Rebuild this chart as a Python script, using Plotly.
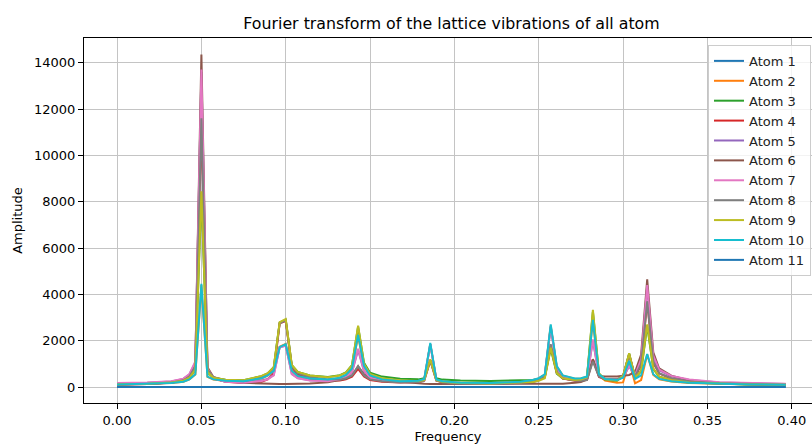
import plotly.graph_objects as go

# Frequency grid (subset of FFT bins)
freq = [0.0, 0.0179, 0.0321, 0.0393, 0.0429, 0.0464, 0.05, 0.0536, 0.0571, 0.0643,
        0.075, 0.0857, 0.0893, 0.0929, 0.0964, 0.1, 0.1036, 0.1071, 0.1143, 0.125,
        0.1321, 0.1357, 0.1393, 0.1429, 0.1464, 0.15, 0.1571, 0.1679, 0.1786, 0.1821,
        0.1857, 0.1893, 0.1929, 0.2036, 0.2214, 0.2393, 0.2464, 0.25, 0.2536, 0.2571,
        0.2607, 0.2643, 0.2714, 0.275, 0.2786, 0.2821, 0.2857, 0.2893, 0.2964, 0.3,
        0.3036, 0.3071, 0.3107, 0.3143, 0.3179, 0.3214, 0.3286, 0.3393, 0.3571, 0.375,
        0.3964]

freq_edge = [0.0, 0.3964]
atom1 = [0, 0]
atom11 = [0, 0]

atom2 = [110, 130, 170, 230, 330, 540, 4400, 440, 320, 260, 240, 370, 490, 690, 1740, 1860, 690, 470, 360, 310,
         390, 510, 790, 2200, 880, 490, 320, 240, 260, 340, 1850, 320, 240, 170, 160, 220, 290, 370, 540, 2650,
         880, 490, 360, 370, 440, 2850, 500, 280, 180, 200, 1100, 160, 300, 1400, 520, 330, 240, 170, 125, 105, 95]
atom3 = [120, 140, 190, 270, 400, 740, 8400, 640, 400, 310, 290, 470, 590, 850, 2780, 2900, 940, 650, 500, 430,
         510, 630, 950, 2600, 1050, 620, 450, 360, 330, 380, 1150, 380, 320, 280, 260, 270, 300, 340, 420, 1650,
         580, 370, 300, 320, 420, 3250, 580, 310, 270, 460, 1450, 390, 680, 2650, 780, 440, 290, 190, 135, 105, 95]
atom4 = [110, 130, 180, 280, 440, 880, 11500, 720, 380, 230, 170, 230, 330, 600, 2750, 2850, 850, 550, 380, 280,
         280, 330, 450, 780, 450, 300, 230, 190, 210, 270, 1150, 270, 200, 150, 140, 170, 220, 290, 440, 1800,
         620, 360, 270, 270, 310, 1200, 430, 330, 310, 460, 1400, 430, 950, 3700, 1050, 580, 370, 230, 150, 115, 95]
atom5 = [160, 180, 240, 350, 540, 1050, 13600, 780, 370, 230, 190, 280, 350, 520, 1720, 1780, 570, 390, 290, 260,
         330, 420, 640, 1600, 680, 390, 280, 220, 230, 290, 1850, 300, 220, 170, 150, 200, 270, 350, 510, 2600,
         830, 450, 320, 320, 390, 2000, 490, 350, 320, 420, 900, 480, 1150, 4350, 1300, 720, 460, 300, 200, 160, 130]
atom6 = [110, 130, 190, 300, 480, 1000, 14350, 850, 430, 260, 180, 140, 130, 130, 130, 130, 130, 130, 150, 200,
         280, 350, 500, 900, 550, 400, 300, 220, 160, 140, 130, 130, 130, 130, 120, 120, 120, 120, 120, 130,
         130, 140, 180, 220, 320, 1200, 480, 450, 450, 480, 520, 650, 1400, 4650, 1500, 800, 490, 280, 160, 120, 100]
atom7 = [170, 190, 250, 360, 560, 1100, 13700, 800, 380, 230, 180, 260, 330, 500, 1700, 1800, 560, 380, 280, 250,
         330, 430, 650, 1650, 700, 400, 280, 220, 230, 300, 1850, 300, 230, 170, 150, 210, 280, 360, 520, 2600,
         850, 460, 330, 330, 400, 2050, 500, 360, 330, 430, 920, 500, 1200, 4400, 1350, 750, 480, 320, 210, 170, 140]
atom8 = [110, 130, 190, 290, 450, 900, 11600, 750, 420, 290, 250, 420, 550, 820, 2750, 2880, 900, 600, 430, 330,
         320, 380, 500, 900, 500, 330, 250, 200, 220, 280, 1150, 280, 210, 150, 140, 180, 230, 300, 450, 1850,
         650, 380, 280, 270, 300, 1100, 450, 350, 330, 480, 1400, 450, 1000, 3700, 1100, 600, 380, 240, 160, 120, 100]
atom9 = [120, 140, 190, 270, 400, 750, 8450, 650, 400, 310, 290, 480, 600, 860, 2800, 2930, 950, 650, 500, 420,
         500, 620, 950, 2650, 1000, 560, 380, 290, 260, 300, 1200, 300, 230, 170, 150, 180, 220, 270, 380, 1700,
         600, 380, 300, 320, 420, 3330, 600, 320, 280, 480, 1460, 400, 700, 2700, 800, 450, 300, 200, 140, 110, 100]
atom10 = [110, 130, 170, 230, 330, 550, 4450, 450, 330, 270, 250, 380, 500, 700, 1720, 1850, 700, 480, 370, 320,
          400, 520, 800, 2250, 900, 500, 330, 250, 270, 350, 1900, 330, 250, 180, 170, 230, 300, 380, 550, 2700,
          900, 500, 370, 380, 450, 2900, 550, 350, 300, 400, 1130, 350, 500, 1420, 550, 350, 250, 180, 130, 110, 100]

names = ["Atom %d" % i for i in range(1, 12)]
series = [atom1, atom2, atom3, atom4, atom5, atom6, atom7, atom8, atom9, atom10, atom11]
colors = ["#1f77b4", "#ff7f0e", "#2ca02c", "#d62728", "#9467bd", "#8c564b",
          "#e377c2", "#7f7f7f", "#bcbd22", "#17becf", "#1f77b4"]

fig = go.Figure()
for i, (nm, ys, c) in enumerate(zip(names, series, colors)):
    xs = freq_edge if i in (0, 10) else freq
    fig.add_trace(go.Scatter(x=xs, y=ys, mode="lines", name=nm,
                             line=dict(color=c, width=2)))

font_family = "DejaVu Sans"
fig.update_layout(
    width=812, height=444,
    margin=dict(l=84, r=0, t=38, b=41, autoexpand=False),
    paper_bgcolor="white", plot_bgcolor="white",
    font=dict(family=font_family, size=13, color="black"),
    title=dict(text="Fourier transform of the lattice vibrations of all atom",
               x=451.5 / 812, xref="container", xanchor="center",
               y=1 - 23 / 444, yref="container", yanchor="middle",
               font=dict(size=15.8, family=font_family, color="black")),
    showlegend=True,
    legend=dict(x=0.9986, xanchor="right", y=0.981, yanchor="top",
                bgcolor="rgba(255,255,255,0.8)", bordercolor="#cccccc", borderwidth=1,
                font=dict(size=13, family=font_family, color="#222")),
)
fig.update_xaxes(range=[-0.0196, 0.412], tickvals=[0, 0.05, 0.1, 0.15, 0.2, 0.25, 0.3, 0.35, 0.4],
                 tickformat=".2f", showgrid=True, gridcolor="#c4c4c4", gridwidth=1,
                 showline=True, linecolor="black", linewidth=1, mirror=True,
                 ticks="outside", ticklen=5, tickcolor="black", zeroline=False, automargin=False,
                 title=dict(text="Frequency", standoff=5, font=dict(size=13)))
fig.update_yaxes(range=[-690, 15065], tickvals=[0, 2000, 4000, 6000, 8000, 10000, 12000, 14000],
                 tickformat="d", showgrid=True, gridcolor="#c4c4c4", gridwidth=1,
                 showline=True, linecolor="black", linewidth=1, mirror=False,
                 ticks="outside", ticklen=5, tickcolor="black", zeroline=False, automargin=False,
                 title=dict(text="Amplitude", standoff=8, font=dict(size=13)))

fig.write_html("out.html", config={"displayModeBar": False},
               post_script="document.body.style.margin='0';document.body.style.overflow='hidden';")
